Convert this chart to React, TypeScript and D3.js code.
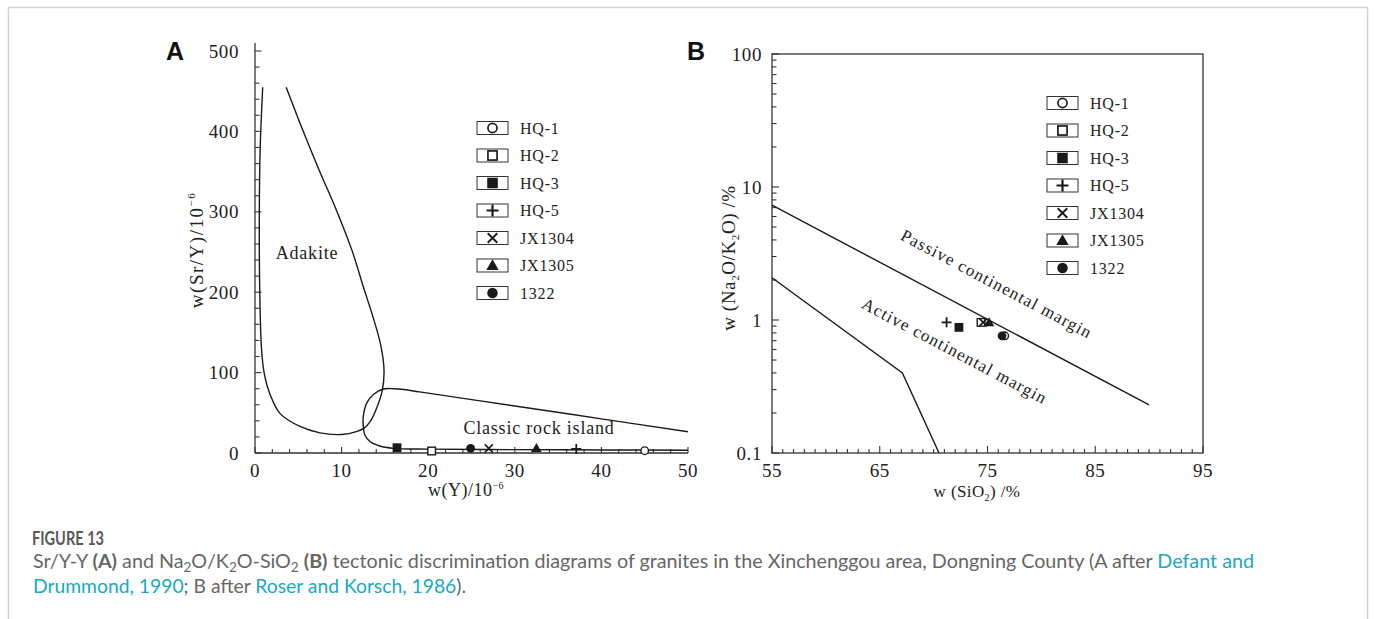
import React from 'react';
import * as d3 from 'd3';

// samples and their symbols (legend order)
const samples = ['HQ-1', 'HQ-2', 'HQ-3', 'HQ-5', 'JX1304', 'JX1305', '1322'];
const symbolTypes = ['circleOpen', 'squareOpen', 'square', 'plus', 'cross', 'triangle', 'circle'];

// panel A: Y (ppm) and Sr/Y
const yPpm = [45.0, 20.4, 16.4, 37.1, 27.0, 32.5, 24.9];
const srY = [2.9, 2.5, 6.6, 5.0, 5.8, 6.0, 5.8];

// panel B: SiO2 (%) and Na2O/K2O
const sio2 = [76.6, 74.4, 72.35, 71.2, 74.6, 75.15, 76.35];
const naK = [0.76, 0.96, 0.88, 0.96, 0.96, 0.96, 0.76];

// field boundaries, panel A (Defant & Drummond, 1990)
const adakiteField: [number, number][] = [
  [0.89, 455], [0.6, 380], [0.5, 300], [0.55, 200], [0.75, 130], [1.05, 100], [1.7, 74],
  [2.9, 49], [5.2, 33], [7.5, 25], [10, 23], [11.7, 26.5], [12.6, 31], [13.3, 39],
  [14.05, 56], [14.7, 78], [14.9, 103], [14.5, 135], [13.6, 170], [12.5, 207],
  [11.2, 252], [9.4, 302], [7.4, 352], [5.5, 402], [3.6, 455],
];
const islandArcField: [number, number][] = [
  [50, 26.5], [40, 42.5], [30, 58.5], [19, 76], [17.2, 79], [16, 80], [14.8, 79.6],
  [13.7, 73], [12.9, 62], [12.5, 45], [12.5, 34], [12.7, 22], [13.3, 14], [14.4, 8.7],
  [16, 5.8], [20, 4.8], [30, 4.2], [40, 3.8], [50, 3.5],
];

// field boundaries, panel B (Roser & Korsch, 1986)
const passiveActiveLine: [number, number][] = [[55, 7.3], [90, 0.23]];
const activeLowerLine: [number, number][] = [[55, 2.08], [67.1, 0.4], [70.5, 0.1]];

// ticks
const xTicksA = [0, 10, 20, 30, 40, 50];
const yTicksA = [0, 100, 200, 300, 400, 500];
const xTicksB = [55, 65, 75, 85, 95];
const yTicksB = [0.1, 1, 10, 100];
const yTickLabelsB = ['0.1', '1', '10', '100'];

const INK = '#1a1a1a';
const SERIF = '"Liberation Serif", "Times New Roman", serif';
const SANS = 'Lato, "Noto Sans", sans-serif';

function Marker({ type, x, y, s = 1 }: { type: string; x: number; y: number; s?: number }) {
  const sw = 1.4 * s;
  switch (type) {
    case 'circleOpen':
      return <circle cx={x} cy={y} r={3.8 * s} fill="#fff" stroke={INK} strokeWidth={sw} />;
    case 'squareOpen':
      return <rect x={x - 3.8 * s} y={y - 3.8 * s} width={7.6 * s} height={7.6 * s} fill="#fff" stroke={INK} strokeWidth={sw} />;
    case 'square':
      return <rect x={x - 4.4 * s} y={y - 4.4 * s} width={8.8 * s} height={8.8 * s} fill={INK} />;
    case 'plus':
      return (
        <path d={`M${x - 5 * s},${y}H${x + 5 * s}M${x},${y - 5 * s}V${y + 5 * s}`} stroke={INK} strokeWidth={1.8 * s} />
      );
    case 'cross':
      return (
        <path
          d={`M${x - 4 * s},${y - 4 * s}L${x + 4 * s},${y + 4 * s}M${x - 4 * s},${y + 4 * s}L${x + 4 * s},${y - 4 * s}`}
          stroke={INK}
          strokeWidth={1.6 * s}
        />
      );
    case 'triangle':
      return (
        <path d={d3.symbol(d3.symbolTriangle, 46 * s * s)() as string} transform={`translate(${x},${y + 0.8 * s})`} fill={INK} />
      );
    default:
      return <circle cx={x} cy={y} r={4.4 * s} fill={INK} />;
  }
}

function Legend({ x, y }: { x: number; y: number }) {
  return (
    <g>
      {samples.map((name, i) => {
        const cy = y + i * 27.5;
        return (
          <g key={name}>
            <rect x={x} y={cy - 6.5} width={31} height={13} fill="#fff" stroke="#333" strokeWidth={1} />
            <Marker type={symbolTypes[i]} x={x + 15.5} y={cy} s={1.2} />
            <text x={x + 43} y={cy + 5.5} fontFamily={SERIF} fontSize={16} letterSpacing={0.8} fill="#222">
              {name}
            </text>
          </g>
        );
      })}
    </g>
  );
}

export default function App() {
  const W = 1375;
  const H = 619;

  // panel A scales
  const xA = d3.scaleLinear().domain([0, 50]).range([255, 688]);
  const yA = d3.scaleLinear().domain([0, 500]).range([453, 51]);
  // panel B scales
  const xB = d3.scaleLinear().domain([55, 95]).range([772, 1203]);
  const yB = d3.scaleLog().domain([0.1, 100]).range([453, 54]);

  const lineA = d3
    .line<[number, number]>()
    .x((d) => xA(d[0]))
    .y((d) => yA(d[1]))
    .curve(d3.curveCatmullRom.alpha(0.5));
  const lineB = d3
    .line<[number, number]>()
    .x((d) => xB(d[0]))
    .y((d) => yB(d[1]));

  const minorXA = d3.range(0, 50.01, 2);
  const minorYA = d3.range(0, 500.01, 20);
  const minorXB = d3.range(55, 95.01, 1);
  const minorYB = d3.range(-1, 2).flatMap((e) => d3.range(2, 10).map((m) => m * 10 ** e));

  // passive margin line angle for the rotated labels
  const p0 = passiveActiveLine[0];
  const p1 = passiveActiveLine[1];
  const angle = (Math.atan2(yB(p1[1]) - yB(p0[1]), xB(p1[0]) - xB(p0[0])) * 180) / Math.PI;

  return (
    <svg width={W} height={H} style={{ position: 'absolute', left: 0, top: 0, background: '#fff' }}>
      {/* card border */}
      <path d={`M8.5,${H}V7.5H1367.5V${H}`} fill="none" stroke="#d2d2d2" strokeWidth={1.5} />

      {/* ---------- panel A ---------- */}
      <g>
        <text x={166} y={60} fontFamily='"Liberation Sans", Arial, sans-serif' fontWeight="bold" fontSize={25} fill="#111">
          A
        </text>
        {/* axes */}
        <line x1={xA(0)} x2={xA(0)} y1={yA(0)} y2={yA(510)} stroke="#333" strokeWidth={1.3} />
        <line x1={xA(0)} x2={xA(50)} y1={yA(0)} y2={yA(0)} stroke="#333" strokeWidth={1.3} />
        {minorYA.map((v) => (
          <line key={'ya' + v} x1={xA(0)} x2={xA(0) + (v % 100 === 0 ? 6.5 : 4.5)} y1={yA(v)} y2={yA(v)} stroke="#333" strokeWidth={1.1} />
        ))}
        {minorXA.map((v) => (
          <line key={'xa' + v} x1={xA(v)} x2={xA(v)} y1={yA(0)} y2={yA(0) - (v % 10 === 0 ? 6 : 4)} stroke="#333" strokeWidth={1.1} />
        ))}
        {yTicksA.map((v) => (
          <text key={'yl' + v} x={239} y={yA(v) + 6.5} textAnchor="end" fontFamily={SERIF} fontSize={19} letterSpacing={0.6} fill="#222">
            {v}
          </text>
        ))}
        {xTicksA.map((v) => (
          <text key={'xl' + v} x={xA(v)} y={477} textAnchor="middle" fontFamily={SERIF} fontSize={19} letterSpacing={0.6} fill="#222">
            {v}
          </text>
        ))}
        <text x={466} y={496} textAnchor="middle" fontFamily={SERIF} fontSize={18} letterSpacing={0.5} fill="#222">
          w(Y)/10<tspan fontSize={10} dy={-7}>−6</tspan>
        </text>
        <text transform="translate(203,250) rotate(-90)" textAnchor="middle" fontFamily={SERIF} fontSize={19} letterSpacing={1.5} fill="#222">
          w(Sr/Y)/10<tspan fontSize={11} dy={-8}>−6</tspan>
        </text>

        {/* fields */}
        <path d={lineA(adakiteField) as string} fill="none" stroke={INK} strokeWidth={1.4} />
        <path d={lineA(islandArcField) as string} fill="none" stroke={INK} strokeWidth={1.4} />
        <text x={307} y={259} textAnchor="middle" fontFamily={SERIF} fontSize={18} letterSpacing={0.8} fill="#222">
          Adakite
        </text>
        <text x={539} y={434} textAnchor="middle" fontFamily={SERIF} fontSize={18} letterSpacing={0.8} fill="#222">
          Classic rock island
        </text>

        {samples.map((name, i) => (
          <Marker key={'a' + name} type={symbolTypes[i]} x={xA(yPpm[i])} y={yA(srY[i])} />
        ))}
        <Legend x={477} y={128} />
      </g>

      {/* ---------- panel B ---------- */}
      <g>
        <text x={687} y={60} fontFamily='"Liberation Sans", Arial, sans-serif' fontWeight="bold" fontSize={25} fill="#111">
          B
        </text>
        <rect x={xB(55)} y={yB(100)} width={xB(95) - xB(55)} height={yB(0.1) - yB(100)} fill="none" stroke="#333" strokeWidth={1.3} />
        {minorYB.map((v) => (
          <line key={'yb' + v} x1={xB(55)} x2={xB(55) + 4.5} y1={yB(v)} y2={yB(v)} stroke="#333" strokeWidth={1.1} />
        ))}
        {yTicksB.map((v) => (
          <line key={'ybm' + v} x1={xB(55)} x2={xB(55) + 7} y1={yB(v)} y2={yB(v)} stroke="#333" strokeWidth={1.1} />
        ))}
        {minorXB.map((v) => (
          <line
            key={'xb' + v}
            x1={xB(v)}
            x2={xB(v)}
            y1={yB(0.1)}
            y2={yB(0.1) - ((v - 55) % 10 === 0 ? 7 : 4)}
            stroke="#333"
            strokeWidth={1.1}
          />
        ))}
        {yTicksB.map((v, i) => (
          <text key={'ylb' + v} x={762} y={yB(v) + 6.5} textAnchor="end" fontFamily={SERIF} fontSize={19} letterSpacing={0.6} fill="#222">
            {yTickLabelsB[i]}
          </text>
        ))}
        {xTicksB.map((v) => (
          <text key={'xlb' + v} x={xB(v)} y={477} textAnchor="middle" fontFamily={SERIF} fontSize={19} letterSpacing={0.6} fill="#222">
            {v}
          </text>
        ))}
        <text x={977} y={497} textAnchor="middle" fontFamily={SERIF} fontSize={17} letterSpacing={0.4} fill="#222">
          w (SiO<tspan fontSize={10} dy={4}>2</tspan>
          <tspan dy={-4}>) /%</tspan>
        </text>
        <text transform="translate(735,258) rotate(-90)" textAnchor="middle" fontFamily={SERIF} fontSize={19} letterSpacing={0.6} fill="#222">
          w (Na<tspan fontSize={11} dy={4}>2</tspan>
          <tspan dy={-4}>O/K</tspan>
          <tspan fontSize={11} dy={4}>2</tspan>
          <tspan dy={-4}>O) /%</tspan>
        </text>

        <path d={lineB(passiveActiveLine) as string} fill="none" stroke={INK} strokeWidth={1.4} />
        <path d={lineB(activeLowerLine) as string} fill="none" stroke={INK} strokeWidth={1.4} />
        <text
          transform={`translate(994,289) rotate(${angle})`}
          textAnchor="middle"
          fontFamily={SERIF}
          fontSize={17}
          letterSpacing={1.2}
          fill="#222">
          Passive continental margin
        </text>
        <text
          transform={`translate(952,356) rotate(${angle})`}
          textAnchor="middle"
          fontFamily={SERIF}
          fontSize={17}
          letterSpacing={1.2}
          fill="#222">
          Active continental margin
        </text>

        {samples.map((name, i) => (
          <Marker key={'b' + name} type={symbolTypes[i]} x={xB(sio2[i])} y={yB(naK[i])} />
        ))}
        <Legend x={1047} y={103} />
      </g>

      {/* ---------- caption ---------- */}
      <text x={32} y={545} fontFamily={SANS} fontWeight="bold" fontSize={18.5} fill="#595959" textLength={72} lengthAdjust="spacingAndGlyphs">
        FIGURE 13
      </text>
      <text x={33} y={568} fontFamily={SANS} fontSize={19} fill="#666" textLength={1221} lengthAdjust="spacingAndGlyphs">
        Sr/Y-Y <tspan fontWeight="bold">(A)</tspan> and Na<tspan fontSize={13} dy={4}>2</tspan>
        <tspan dy={-4}>O/K</tspan>
        <tspan fontSize={13} dy={4}>2</tspan>
        <tspan dy={-4}>O-SiO</tspan>
        <tspan fontSize={13} dy={4}>2</tspan>
        <tspan dy={-4}> </tspan>
        <tspan fontWeight="bold">(B)</tspan> tectonic discrimination diagrams of granites in the Xinchenggou area, Dongning County (A after{' '}
        <tspan fill="#17a9c5">Defant and</tspan>
      </text>
      <text x={33} y={593} fontFamily={SANS} fontSize={19} fill="#666" textLength={433} lengthAdjust="spacingAndGlyphs">
        <tspan fill="#17a9c5">Drummond, 1990</tspan>; B after <tspan fill="#17a9c5">Roser and Korsch, 1986</tspan>).
      </text>
    </svg>
  );
}
